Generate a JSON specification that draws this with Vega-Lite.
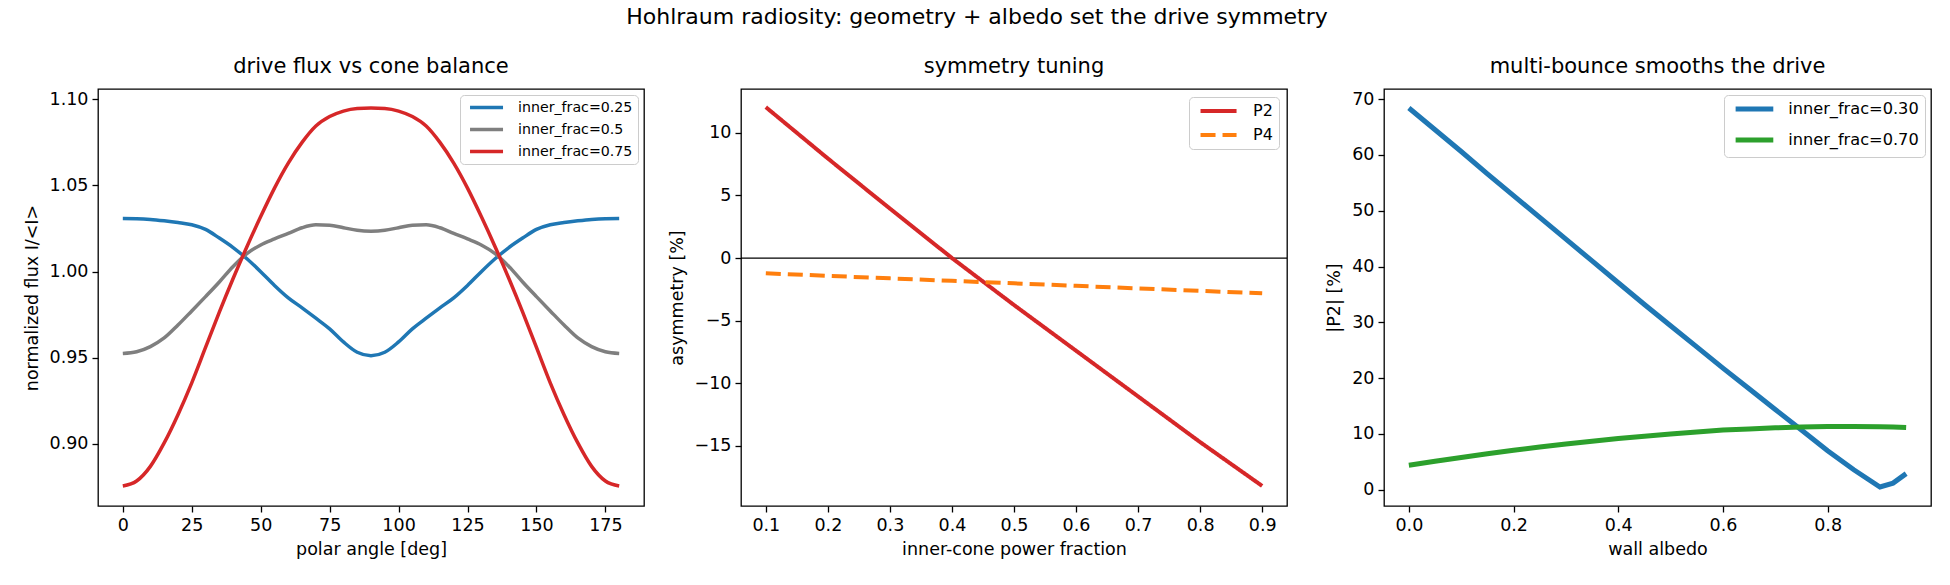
{
  "$schema": "https://vega.github.io/schema/vega-lite/v6.json",
  "background": "white",
  "padding": {"left": 22, "top": 6, "right": 5, "bottom": 5},
  "title": {
    "text": "Hohlraum radiosity: geometry + albedo set the drive symmetry",
    "fontSize": 22,
    "font": "DejaVu Sans",
    "fontWeight": "normal",
    "color": "black",
    "anchor": "middle",
    "frame": "bounds",
    "offset": 26
  },
  "config": {
    "font": "DejaVu Sans",
    "view": {"stroke": "black", "strokeWidth": 1.3},
    "axis": {
      "grid": false,
      "domain": false,
      "tickColor": "black",
      "tickSize": 6,
      "tickWidth": 1.3,
      "labelFont": "DejaVu Sans",
      "labelFontSize": 17.5,
      "labelColor": "black",
      "labelPadding": 4,
      "labelFlush": false,
      "titleFont": "DejaVu Sans",
      "titleFontSize": 17.5,
      "titleFontWeight": "normal",
      "titleColor": "black"
    },
    "axisX": {"titlePadding": 7},
    "axisY": {"titlePadding": 8},
    "title": {"font": "DejaVu Sans", "fontSize": 21, "fontWeight": "normal", "color": "black", "offset": 12, "frame": "group"},
    "legend": {
      "title": null,
      "orient": "top-right",
      "fillColor": "rgba(255,255,255,0.8)",
      "strokeColor": "#cccccc",
      "cornerRadius": 4,
      "labelFont": "DejaVu Sans",
      "labelColor": "black"
    }
  },
  "datasets": {
    "flux": [
      {"angle": 0, "series": "inner_frac=0.25", "flux": 1.0308},
      {"angle": 5, "series": "inner_frac=0.25", "flux": 1.0307},
      {"angle": 10, "series": "inner_frac=0.25", "flux": 1.0303},
      {"angle": 15, "series": "inner_frac=0.25", "flux": 1.0295},
      {"angle": 20, "series": "inner_frac=0.25", "flux": 1.0285},
      {"angle": 25, "series": "inner_frac=0.25", "flux": 1.0272},
      {"angle": 30, "series": "inner_frac=0.25", "flux": 1.0245},
      {"angle": 35, "series": "inner_frac=0.25", "flux": 1.0195},
      {"angle": 40, "series": "inner_frac=0.25", "flux": 1.0140},
      {"angle": 45, "series": "inner_frac=0.25", "flux": 1.0075},
      {"angle": 50, "series": "inner_frac=0.25", "flux": 1.0000},
      {"angle": 55, "series": "inner_frac=0.25", "flux": 0.9920},
      {"angle": 60, "series": "inner_frac=0.25", "flux": 0.9848},
      {"angle": 65, "series": "inner_frac=0.25", "flux": 0.9790},
      {"angle": 70, "series": "inner_frac=0.25", "flux": 0.9730},
      {"angle": 75, "series": "inner_frac=0.25", "flux": 0.9668},
      {"angle": 80, "series": "inner_frac=0.25", "flux": 0.9592},
      {"angle": 85, "series": "inner_frac=0.25", "flux": 0.9532},
      {"angle": 90, "series": "inner_frac=0.25", "flux": 0.9512},
      {"angle": 95, "series": "inner_frac=0.25", "flux": 0.9532},
      {"angle": 100, "series": "inner_frac=0.25", "flux": 0.9592},
      {"angle": 105, "series": "inner_frac=0.25", "flux": 0.9668},
      {"angle": 110, "series": "inner_frac=0.25", "flux": 0.9730},
      {"angle": 115, "series": "inner_frac=0.25", "flux": 0.9790},
      {"angle": 120, "series": "inner_frac=0.25", "flux": 0.9848},
      {"angle": 125, "series": "inner_frac=0.25", "flux": 0.9920},
      {"angle": 130, "series": "inner_frac=0.25", "flux": 1.0000},
      {"angle": 135, "series": "inner_frac=0.25", "flux": 1.0075},
      {"angle": 140, "series": "inner_frac=0.25", "flux": 1.0140},
      {"angle": 145, "series": "inner_frac=0.25", "flux": 1.0195},
      {"angle": 150, "series": "inner_frac=0.25", "flux": 1.0245},
      {"angle": 155, "series": "inner_frac=0.25", "flux": 1.0272},
      {"angle": 160, "series": "inner_frac=0.25", "flux": 1.0285},
      {"angle": 165, "series": "inner_frac=0.25", "flux": 1.0295},
      {"angle": 170, "series": "inner_frac=0.25", "flux": 1.0303},
      {"angle": 175, "series": "inner_frac=0.25", "flux": 1.0307},
      {"angle": 180, "series": "inner_frac=0.25", "flux": 1.0308},
      {"angle": 0, "series": "inner_frac=0.5", "flux": 0.9525},
      {"angle": 5, "series": "inner_frac=0.5", "flux": 0.9535},
      {"angle": 10, "series": "inner_frac=0.5", "flux": 0.9565},
      {"angle": 15, "series": "inner_frac=0.5", "flux": 0.9615},
      {"angle": 20, "series": "inner_frac=0.5", "flux": 0.9690},
      {"angle": 25, "series": "inner_frac=0.5", "flux": 0.9772},
      {"angle": 30, "series": "inner_frac=0.5", "flux": 0.9855},
      {"angle": 35, "series": "inner_frac=0.5", "flux": 0.9940},
      {"angle": 40, "series": "inner_frac=0.5", "flux": 1.0030},
      {"angle": 45, "series": "inner_frac=0.5", "flux": 1.0105},
      {"angle": 50, "series": "inner_frac=0.5", "flux": 1.0155},
      {"angle": 55, "series": "inner_frac=0.5", "flux": 1.0190},
      {"angle": 60, "series": "inner_frac=0.5", "flux": 1.0222},
      {"angle": 65, "series": "inner_frac=0.5", "flux": 1.0255},
      {"angle": 70, "series": "inner_frac=0.5", "flux": 1.0272},
      {"angle": 75, "series": "inner_frac=0.5", "flux": 1.0270},
      {"angle": 80, "series": "inner_frac=0.5", "flux": 1.0255},
      {"angle": 85, "series": "inner_frac=0.5", "flux": 1.0240},
      {"angle": 90, "series": "inner_frac=0.5", "flux": 1.0235},
      {"angle": 95, "series": "inner_frac=0.5", "flux": 1.0240},
      {"angle": 100, "series": "inner_frac=0.5", "flux": 1.0255},
      {"angle": 105, "series": "inner_frac=0.5", "flux": 1.0270},
      {"angle": 110, "series": "inner_frac=0.5", "flux": 1.0272},
      {"angle": 115, "series": "inner_frac=0.5", "flux": 1.0255},
      {"angle": 120, "series": "inner_frac=0.5", "flux": 1.0222},
      {"angle": 125, "series": "inner_frac=0.5", "flux": 1.0190},
      {"angle": 130, "series": "inner_frac=0.5", "flux": 1.0155},
      {"angle": 135, "series": "inner_frac=0.5", "flux": 1.0105},
      {"angle": 140, "series": "inner_frac=0.5", "flux": 1.0030},
      {"angle": 145, "series": "inner_frac=0.5", "flux": 0.9940},
      {"angle": 150, "series": "inner_frac=0.5", "flux": 0.9855},
      {"angle": 155, "series": "inner_frac=0.5", "flux": 0.9772},
      {"angle": 160, "series": "inner_frac=0.5", "flux": 0.9690},
      {"angle": 165, "series": "inner_frac=0.5", "flux": 0.9615},
      {"angle": 170, "series": "inner_frac=0.5", "flux": 0.9565},
      {"angle": 175, "series": "inner_frac=0.5", "flux": 0.9535},
      {"angle": 180, "series": "inner_frac=0.5", "flux": 0.9525},
      {"angle": 0, "series": "inner_frac=0.75", "flux": 0.8756},
      {"angle": 5, "series": "inner_frac=0.75", "flux": 0.8785},
      {"angle": 10, "series": "inner_frac=0.75", "flux": 0.8870},
      {"angle": 15, "series": "inner_frac=0.75", "flux": 0.9006},
      {"angle": 20, "series": "inner_frac=0.75", "flux": 0.9170},
      {"angle": 25, "series": "inner_frac=0.75", "flux": 0.9355},
      {"angle": 30, "series": "inner_frac=0.75", "flux": 0.9560},
      {"angle": 35, "series": "inner_frac=0.75", "flux": 0.9765},
      {"angle": 40, "series": "inner_frac=0.75", "flux": 0.9960},
      {"angle": 45, "series": "inner_frac=0.75", "flux": 1.0145},
      {"angle": 50, "series": "inner_frac=0.75", "flux": 1.0320},
      {"angle": 55, "series": "inner_frac=0.75", "flux": 1.0485},
      {"angle": 60, "series": "inner_frac=0.75", "flux": 1.0630},
      {"angle": 65, "series": "inner_frac=0.75", "flux": 1.0750},
      {"angle": 70, "series": "inner_frac=0.75", "flux": 1.0845},
      {"angle": 75, "series": "inner_frac=0.75", "flux": 1.0900},
      {"angle": 80, "series": "inner_frac=0.75", "flux": 1.0932},
      {"angle": 85, "series": "inner_frac=0.75", "flux": 1.0947},
      {"angle": 90, "series": "inner_frac=0.75", "flux": 1.0950},
      {"angle": 95, "series": "inner_frac=0.75", "flux": 1.0947},
      {"angle": 100, "series": "inner_frac=0.75", "flux": 1.0932},
      {"angle": 105, "series": "inner_frac=0.75", "flux": 1.0900},
      {"angle": 110, "series": "inner_frac=0.75", "flux": 1.0845},
      {"angle": 115, "series": "inner_frac=0.75", "flux": 1.0750},
      {"angle": 120, "series": "inner_frac=0.75", "flux": 1.0630},
      {"angle": 125, "series": "inner_frac=0.75", "flux": 1.0485},
      {"angle": 130, "series": "inner_frac=0.75", "flux": 1.0320},
      {"angle": 135, "series": "inner_frac=0.75", "flux": 1.0145},
      {"angle": 140, "series": "inner_frac=0.75", "flux": 0.9960},
      {"angle": 145, "series": "inner_frac=0.75", "flux": 0.9765},
      {"angle": 150, "series": "inner_frac=0.75", "flux": 0.9560},
      {"angle": 155, "series": "inner_frac=0.75", "flux": 0.9355},
      {"angle": 160, "series": "inner_frac=0.75", "flux": 0.9170},
      {"angle": 165, "series": "inner_frac=0.75", "flux": 0.9006},
      {"angle": 170, "series": "inner_frac=0.75", "flux": 0.8870},
      {"angle": 175, "series": "inner_frac=0.75", "flux": 0.8785},
      {"angle": 180, "series": "inner_frac=0.75", "flux": 0.8756}
    ],
    "sym": [
      {"frac": 0.1, "mode": "P2", "asym": 12.05},
      {"frac": 0.2, "mode": "P2", "asym": 7.95},
      {"frac": 0.3, "mode": "P2", "asym": 3.95},
      {"frac": 0.4, "mode": "P2", "asym": 0.0},
      {"frac": 0.5, "mode": "P2", "asym": -3.75},
      {"frac": 0.6, "mode": "P2", "asym": -7.4},
      {"frac": 0.7, "mode": "P2", "asym": -11.05},
      {"frac": 0.8, "mode": "P2", "asym": -14.7},
      {"frac": 0.9, "mode": "P2", "asym": -18.2},
      {"frac": 0.1, "mode": "P4", "asym": -1.22},
      {"frac": 0.2, "mode": "P4", "asym": -1.42},
      {"frac": 0.3, "mode": "P4", "asym": -1.62},
      {"frac": 0.4, "mode": "P4", "asym": -1.82},
      {"frac": 0.5, "mode": "P4", "asym": -2.02},
      {"frac": 0.6, "mode": "P4", "asym": -2.22},
      {"frac": 0.7, "mode": "P4", "asym": -2.42},
      {"frac": 0.8, "mode": "P4", "asym": -2.62},
      {"frac": 0.9, "mode": "P4", "asym": -2.82}
    ],
    "bounce": [
      {"albedo": 0.0, "series": "inner_frac=0.30", "p2": 68.4},
      {"albedo": 0.05, "series": "inner_frac=0.30", "p2": 64.5},
      {"albedo": 0.1, "series": "inner_frac=0.30", "p2": 60.6},
      {"albedo": 0.15, "series": "inner_frac=0.30", "p2": 56.6},
      {"albedo": 0.2, "series": "inner_frac=0.30", "p2": 52.7},
      {"albedo": 0.25, "series": "inner_frac=0.30", "p2": 48.8},
      {"albedo": 0.3, "series": "inner_frac=0.30", "p2": 44.9},
      {"albedo": 0.35, "series": "inner_frac=0.30", "p2": 41.0},
      {"albedo": 0.4, "series": "inner_frac=0.30", "p2": 37.1},
      {"albedo": 0.45, "series": "inner_frac=0.30", "p2": 33.2},
      {"albedo": 0.5, "series": "inner_frac=0.30", "p2": 29.4},
      {"albedo": 0.55, "series": "inner_frac=0.30", "p2": 25.6},
      {"albedo": 0.6, "series": "inner_frac=0.30", "p2": 21.8},
      {"albedo": 0.65, "series": "inner_frac=0.30", "p2": 18.1},
      {"albedo": 0.7, "series": "inner_frac=0.30", "p2": 14.4},
      {"albedo": 0.75, "series": "inner_frac=0.30", "p2": 10.7},
      {"albedo": 0.8, "series": "inner_frac=0.30", "p2": 7.0},
      {"albedo": 0.85, "series": "inner_frac=0.30", "p2": 3.6},
      {"albedo": 0.9, "series": "inner_frac=0.30", "p2": 0.5},
      {"albedo": 0.925, "series": "inner_frac=0.30", "p2": 1.2},
      {"albedo": 0.95, "series": "inner_frac=0.30", "p2": 2.9},
      {"albedo": 0.0, "series": "inner_frac=0.70", "p2": 4.4},
      {"albedo": 0.05, "series": "inner_frac=0.70", "p2": 5.1},
      {"albedo": 0.1, "series": "inner_frac=0.70", "p2": 5.8},
      {"albedo": 0.15, "series": "inner_frac=0.70", "p2": 6.45},
      {"albedo": 0.2, "series": "inner_frac=0.70", "p2": 7.1},
      {"albedo": 0.25, "series": "inner_frac=0.70", "p2": 7.65},
      {"albedo": 0.3, "series": "inner_frac=0.70", "p2": 8.2},
      {"albedo": 0.35, "series": "inner_frac=0.70", "p2": 8.7},
      {"albedo": 0.4, "series": "inner_frac=0.70", "p2": 9.2},
      {"albedo": 0.45, "series": "inner_frac=0.70", "p2": 9.6},
      {"albedo": 0.5, "series": "inner_frac=0.70", "p2": 10.0},
      {"albedo": 0.55, "series": "inner_frac=0.70", "p2": 10.35},
      {"albedo": 0.6, "series": "inner_frac=0.70", "p2": 10.7},
      {"albedo": 0.65, "series": "inner_frac=0.70", "p2": 10.9},
      {"albedo": 0.7, "series": "inner_frac=0.70", "p2": 11.1},
      {"albedo": 0.75, "series": "inner_frac=0.70", "p2": 11.25},
      {"albedo": 0.8, "series": "inner_frac=0.70", "p2": 11.35},
      {"albedo": 0.85, "series": "inner_frac=0.70", "p2": 11.35},
      {"albedo": 0.9, "series": "inner_frac=0.70", "p2": 11.3},
      {"albedo": 0.925, "series": "inner_frac=0.70", "p2": 11.25},
      {"albedo": 0.95, "series": "inner_frac=0.70", "p2": 11.15}
    ]
  },
  "spacing": 97,
  "bounds": "flush",
  "resolve": {"scale": {"color": "independent", "strokeDash": "independent"}, "legend": {"color": "independent", "strokeDash": "independent"}},
  "hconcat": [
    {
      "width": 546,
      "height": 417,
      "title": "drive flux vs cone balance",
      "data": {"name": "flux"},
      "mark": {"type": "line", "strokeWidth": 3.5, "interpolate": "monotone", "clip": true},
      "encoding": {
        "x": {
          "field": "angle",
          "type": "quantitative",
          "scale": {"domain": [-9, 189], "nice": false, "zero": false},
          "axis": {"values": [0, 25, 50, 75, 100, 125, 150, 175], "title": "polar angle [deg]"}
        },
        "y": {
          "field": "flux",
          "type": "quantitative",
          "scale": {"domain": [0.864, 1.106], "nice": false, "zero": false},
          "axis": {"values": [0.9, 0.95, 1.0, 1.05, 1.1], "format": ".2f", "title": "normalized flux I/<I>"}
        },
        "color": {
          "field": "series",
          "type": "nominal",
          "scale": {"domain": ["inner_frac=0.25", "inner_frac=0.5", "inner_frac=0.75"], "range": ["#1f77b4", "#7f7f7f", "#d62728"]},
          "legend": {
            "offset": 6,
            "padding": 5,
            "labelFontSize": 14.2,
            "symbolType": "M-0.45,0H5.55",
            "symbolSize": 121,
            "symbolStrokeWidth": 3.5,
            "labelOffset": 38,
            "rowPadding": 7
          }
        }
      }
    },
    {
      "width": 546,
      "height": 417,
      "title": "symmetry tuning",
      "layer": [
        {
          "data": {"values": [{"level": 0}]},
          "mark": {"type": "rule", "color": "black", "strokeWidth": 1.3},
          "encoding": {"y": {"field": "level", "type": "quantitative"}}
        },
        {
          "data": {"name": "sym"},
          "mark": {"type": "line", "strokeWidth": 4, "clip": true},
          "encoding": {
            "x": {
              "field": "frac",
              "type": "quantitative",
              "scale": {"domain": [0.06, 0.94], "nice": false, "zero": false},
              "axis": {"values": [0.1, 0.2, 0.3, 0.4, 0.5, 0.6, 0.7, 0.8, 0.9], "format": ".1f", "title": "inner-cone power fraction"}
            },
            "y": {
              "field": "asym",
              "type": "quantitative",
              "scale": {"domain": [-19.8, 13.5], "nice": false, "zero": false},
              "axis": {"values": [-15, -10, -5, 0, 5, 10], "title": "asymmetry [%]"}
            },
            "color": {
              "field": "mode",
              "type": "nominal",
              "scale": {"domain": ["P2", "P4"], "range": ["#d62728", "#ff7f0e"]},
              "legend": {
                "offset": 8,
                "padding": 6,
                "labelFontSize": 16,
                "symbolType": "M-0.45,0H6.1",
                "symbolSize": 121,
                "symbolStrokeWidth": 4,
                "labelOffset": 42,
                "rowPadding": 8
              }
            },
            "strokeDash": {
              "field": "mode",
              "type": "nominal",
              "scale": {"domain": ["P2", "P4"], "range": [[1, 0], [15, 7]]},
              "legend": {
                "offset": 8,
                "padding": 6,
                "labelFontSize": 16,
                "symbolType": "M-0.45,0H6.1",
                "symbolSize": 121,
                "symbolStrokeWidth": 4,
                "labelOffset": 42,
                "rowPadding": 8
              }
            }
          }
        }
      ]
    },
    {
      "width": 547,
      "height": 417,
      "title": "multi-bounce smooths the drive",
      "data": {"name": "bounce"},
      "mark": {"type": "line", "strokeWidth": 5, "clip": true},
      "encoding": {
        "x": {
          "field": "albedo",
          "type": "quantitative",
          "scale": {"domain": [-0.0475, 0.9975], "nice": false, "zero": false},
          "axis": {"values": [0, 0.2, 0.4, 0.6, 0.8], "format": ".1f", "title": "wall albedo"}
        },
        "y": {
          "field": "p2",
          "type": "quantitative",
          "scale": {"domain": [-2.9, 71.8], "nice": false, "zero": false},
          "axis": {"values": [0, 10, 20, 30, 40, 50, 60, 70], "title": "|P2| [%]"}
        },
        "color": {
          "field": "series",
          "type": "nominal",
          "scale": {"domain": ["inner_frac=0.30", "inner_frac=0.70"], "range": ["#1f77b4", "#2ca02c"]},
          "legend": {
            "offset": 6,
            "padding": 6,
            "labelFontSize": 16.2,
            "symbolType": "M-0.45,0H6.4",
            "symbolSize": 121,
            "symbolStrokeWidth": 5,
            "labelOffset": 42,
            "rowPadding": 10
          }
        }
      }
    }
  ]
}
